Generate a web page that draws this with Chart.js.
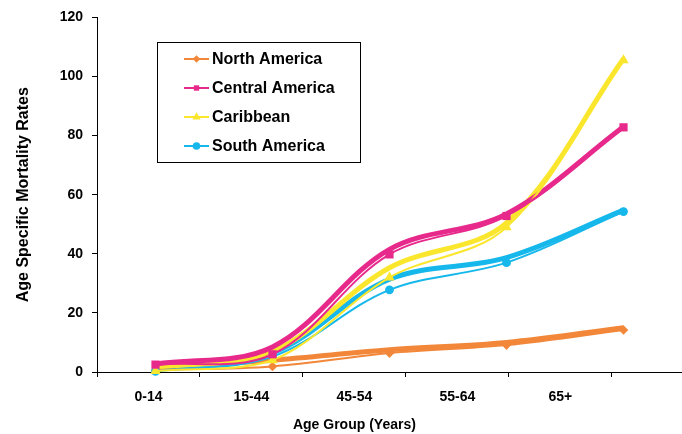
<!DOCTYPE html>
<html>
<head>
<meta charset="utf-8">
<script src="https://cdn.jsdelivr.net/npm/chart.js@4/dist/chart.umd.min.js"></script>
<style>
  html, body { margin: 0; padding: 0; background: #ffffff; }
  #wrap { width: 682px; height: 434px; position: relative; }
</style>
</head>
<body>
<div id="wrap"><canvas id="chart"></canvas></div>
<script>
// Age groups along the horizontal axis
const categories = ['0-14', '15-44', '45-54', '55-64', '65+'];
// Regions shown in the legend
const seriesNames = ['North America', 'Central America', 'Caribbean', 'South America'];

// Age specific mortality rates per region (marked series)
const northAmerica   = [0.7, 1.9, 6.4, 9.1, 14.2];
const centralAmerica = [2.5, 6.0, 39.8, 52.8, 82.8];
const caribbean      = [0.3, 4.0, 32.0, 49.0, 105.5];
const southAmerica   = [0.2, 5.2, 27.8, 37.0, 54.3];

// Companion fitted curves drawn underneath the marked series
const northAmericaFitted   = [1.5, 4.0, 7.5, 10.0, 15.0];
const centralAmericaFitted = [2.7, 8.5, 41.5, 53.5, 83.0];
const caribbeanFitted      = [1.5, 7.0, 35.3, 50.5, 106.0];
const southAmericaFitted   = [1.2, 6.5, 31.4, 38.7, 54.8];

// Value axis ticks
const yTicks = [0, 20, 40, 60, 80, 100, 120];

const colors = ['#F2873A', '#E8298C', '#FBE62E', '#16B8EC'];
const markers = ['rectRot', 'rect', 'triangle', 'circle'];
const markerRadius = [4.8, 5.8, 6.0, 4.4];

const FONT = '"Liberation Sans", Arial, Helvetica, sans-serif';
Chart.defaults.font.family = FONT;
Chart.defaults.color = '#000000';

const observed = [northAmerica, centralAmerica, caribbean, southAmerica];
const fitted = [northAmericaFitted, centralAmericaFitted, caribbeanFitted, southAmericaFitted];
const fittedOrder = [15, 11, 13, 14];
const observedOrder = [5, 1, 3, 4];

const datasets = [];
observed.forEach((vals, i) => {
  datasets.push({
    label: seriesNames[i],
    data: vals,
    xAxisID: 'x',
    yAxisID: 'y',
    borderColor: colors[i],
    backgroundColor: colors[i],
    borderWidth: 2,
    pointStyle: markers[i],
    pointRadius: markerRadius[i],
    pointBorderWidth: 0,
    pointBackgroundColor: colors[i],
    tension: 0.35,
    clip: false,
    order: observedOrder[i],
    inLegend: true
  });
});
fitted.forEach((vals, i) => {
  datasets.push({
    label: seriesNames[i] + ' (fitted)',
    data: vals,
    xAxisID: 'x',
    yAxisID: 'y',
    borderColor: colors[i],
    borderWidth: 5,
    pointRadius: 0,
    tension: 0.35,
    clip: false,
    order: fittedOrder[i],
    inLegend: false
  });
});

// Label axis: one slot per age group, with tick marks on the slot edges
const labelSlot = 0.88;                        // label slot width relative to a data slot
const labelMax = categories.length / labelSlot;

function drawMarker(ctx, style, x, y, r, color) {
  ctx.save();
  ctx.fillStyle = color;
  ctx.beginPath();
  if (style === 'rectRot') {
    ctx.moveTo(x, y - r); ctx.lineTo(x + r, y); ctx.lineTo(x, y + r); ctx.lineTo(x - r, y);
  } else if (style === 'rect') {
    const s = r * Math.SQRT1_2;
    ctx.rect(x - s, y - s, 2 * s, 2 * s);
  } else if (style === 'triangle') {
    const w = r * Math.sqrt(3) / 2;
    ctx.moveTo(x, y - r); ctx.lineTo(x + w, y + r / 2); ctx.lineTo(x - w, y + r / 2);
  } else {
    ctx.arc(x, y, r, 0, Math.PI * 2);
  }
  ctx.closePath();
  ctx.fill();
  ctx.restore();
}

const boxedLegend = {
  id: 'boxedLegend',
  afterDraw(chart) {
    const ctx = chart.ctx;
    const box = { left: 157.5, top: 42.5, width: 203, height: 120 };
    ctx.save();
    ctx.strokeStyle = '#000000';
    ctx.lineWidth = 1;
    ctx.strokeRect(box.left, box.top, box.width, box.height);
    const entries = chart.data.datasets.filter(d => d.inLegend);
    ctx.font = 'bold 16px ' + FONT;
    ctx.textBaseline = 'middle';
    ctx.textAlign = 'left';
    entries.forEach((d, i) => {
      const y = 59 + i * 29;
      ctx.strokeStyle = d.borderColor;
      ctx.lineWidth = 2;
      ctx.beginPath();
      ctx.moveTo(184, y);
      ctx.lineTo(209, y);
      ctx.stroke();
      drawMarker(ctx, d.pointStyle, 196.5, y, d.pointStyle === 'triangle' ? 4.8 : 3.8, d.borderColor);
      ctx.fillStyle = '#000000';
      ctx.fillText(d.label, 212, y + 1);
    });
    ctx.restore();
  }
};

const groupTitle = {
  id: 'groupTitle',
  afterDraw(chart) {
    const s = chart.scales.xl;
    const ctx = chart.ctx;
    const cx = (s.getPixelForValue(0) + s.getPixelForValue(categories.length)) / 2;
    ctx.save();
    ctx.font = 'bold 14px ' + FONT;
    ctx.fillStyle = '#000000';
    ctx.textAlign = 'center';
    ctx.textBaseline = 'middle';
    ctx.fillText('Age Group (Years)', cx, 425);
    ctx.restore();
  }
};

new Chart(document.getElementById('chart'), {
  type: 'line',
  data: { labels: categories, datasets },
  plugins: [boxedLegend, groupTitle],
  options: {
    responsive: true,
    maintainAspectRatio: false,
    animation: false,
    layout: { autoPadding: false, padding: { top: 16, right: 0, bottom: 0, left: 0 } },
    plugins: {
      legend: { display: false },
      tooltip: { enabled: false },
      title: { display: false }
    },
    scales: {
      x: {
        type: 'category',
        offset: true,
        display: false
      },
      xl: {
        type: 'linear',
        position: 'bottom',
        min: 0,
        max: labelMax,
        afterBuildTicks(scale) {
          const t = [];
          for (let k = 0; k <= categories.length; k++) {
            t.push({ value: k });
            if (k < categories.length) t.push({ value: k + 0.5 });
          }
          t.push({ value: labelMax });
          scale.ticks = t;
        },
        afterFit(scale) {
          scale.height = 62;
          scale.paddingLeft = 0;
          scale.paddingRight = 0;
        },
        border: { display: true, color: '#000000', width: 1 },
        grid: {
          drawOnChartArea: false,
          drawTicks: true,
          tickLength: 5,
          tickWidth: 1,
          tickColor: (c) => {
            const v = c.tick ? c.tick.value : 0;
            return (Number.isInteger(v) || v === labelMax) ? '#000000' : 'rgba(0,0,0,0)';
          }
        },
        ticks: {
          autoSkip: false,
          maxRotation: 0,
          padding: 12,
          color: '#000000',
          font: { size: 14, weight: 'bold' },
          callback: (v) => {
            const k = v - 0.5;
            return (Number.isInteger(k) && categories[k] !== undefined) ? categories[k] : '';
          }
        }
      },
      y: {
        type: 'linear',
        min: yTicks[0],
        max: yTicks[yTicks.length - 1],
        afterBuildTicks(scale) { scale.ticks = yTicks.map(v => ({ value: v })); },
        afterFit(scale) { scale.width = 97; },
        border: { display: true, color: '#000000', width: 1 },
        grid: { drawOnChartArea: false, tickLength: 5, tickColor: '#000000' },
        ticks: {
          padding: 9,
          color: '#000000',
          font: { size: 14, weight: 'bold' }
        },
        title: {
          display: true,
          text: 'Age Specific Mortality Rates',
          color: '#000000',
          font: { size: 16, weight: 'bold' },
          padding: { top: 14, bottom: 0 }
        }
      }
    }
  }
});
</script>
</body>
</html>
